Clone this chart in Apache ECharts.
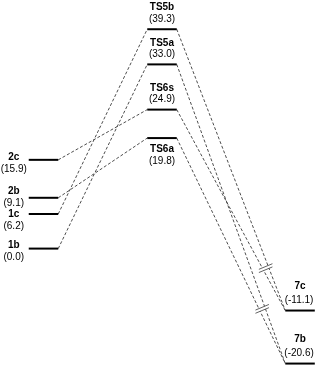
<!DOCTYPE html>
<html><head><meta charset="utf-8">
<script src="https://cdn.jsdelivr.net/npm/echarts@6/dist/echarts.min.js"></script>
<style>html,body{margin:0;padding:0;background:#fff}#c{width:316px;height:368px}</style>
</head><body><div id="c"></div>
<script>
// ---- data ----
const species  = ['1b', '1c', '2b', '2c', 'TS5a', 'TS5b', 'TS6a', 'TS6s', '7b', '7c'];
const energies = [0.0, 6.2, 9.1, 15.9, 33.0, 39.3, 19.8, 24.9, -20.6, -11.1];
const stages   = [0, 0, 0, 0, 1, 1, 1, 1, 2, 2];
const stageCoord = [0, 1, 2.165];
const linkFrom = ['1b', '1c', '2b', '2c', 'TS5a', 'TS5b', 'TS6a', 'TS6s'];
const linkTo   = ['TS5a', 'TS5b', 'TS6a', 'TS6s', '7b', '7c', '7b', '7c'];
const labelsBelow = ['TS6a'];
const breakTarget = ['7c', '7b'];
const breakEnergy = [-3.5, -10.8];

const HW = 0.1245;
const FONT = '"Liberation Sans", Arial, sans-serif';
const idx = n => species.indexOf(n);

const levelData = species.map((n, i) => [stages[i], energies[i], i]);
const linkData = linkFrom.map((f, k) => [k]);
const breakData = breakTarget.map((t, k) => [k]);

function linkEnds(k) {
  const a = idx(linkFrom[k]), b = idx(linkTo[k]);
  return [[stageCoord[stages[a]] + HW, energies[a]], [stageCoord[stages[b]] - HW, energies[b]]];
}

// label shifts for the left column so stacked labels do not collide
function leftShifts(api) {
  const items = species.map((n, i) => i).filter(i => stages[i] === 0)
    .map(i => ({i, y: api.coord([0, energies[i]])[1], d: 0}))
    .sort((a, b) => a.y - b.y);
  const NEED = 11.5;
  for (let k = 0; k + 1 < items.length; k++) {
    const u = items[k], l = items[k + 1];
    const gap = (l.y - 3 + l.d) - (u.y + 9 + u.d);
    if (gap < NEED) { const def = NEED - gap; u.d -= def / 2; l.d += def / 2; }
  }
  const out = {};
  items.forEach(it => out[it.i] = it.d);
  return out;
}

const chart = echarts.init(document.getElementById('c'), null, {renderer: 'canvas'});
chart.setOption({
  animation: false,
  grid: {left: 0, right: 0, top: 3, bottom: 2.2},
  xAxis: {type: 'value', min: -0.367, max: 2.2996, show: false},
  yAxis: {type: 'value', min: -21, max: 44, show: false},
  series: [
    {
      type: 'custom', clip: false, data: linkData, z: 1,
      renderItem(params, api) {
        const e = linkEnds(api.value(0));
        const p1 = api.coord(e[0]), p2 = api.coord(e[1]);
        return {type: 'line', shape: {x1: p1[0], y1: p1[1], x2: p2[0], y2: p2[1]},
          style: {stroke: '#3a3a3a', lineWidth: 0.9, lineDash: [3, 2]}};
      }
    },
    {
      type: 'custom', clip: false, data: breakData, z: 2,
      renderItem(params, api) {
        const k = api.value(0);
        const y = api.coord([0, breakEnergy[k]])[1];
        const xs = [];
        linkTo.forEach((t, j) => {
          if (t !== breakTarget[k]) return;
          const e = linkEnds(j);
          const p1 = api.coord(e[0]), p2 = api.coord(e[1]);
          xs.push(p1[0] + (y - p1[1]) * (p2[0] - p1[0]) / (p2[1] - p1[1]));
        });
        const mx = (Math.min(...xs) + Math.max(...xs)) / 2;
        const hx = (Math.max(...xs) - Math.min(...xs)) / 2 + 3.5, hy = 2.8, g = 1.6;
        return {type: 'group', children: [
          {type: 'polygon', shape: {points: [[mx - hx, y + hy - g], [mx + hx, y - hy - g], [mx + hx, y - hy + g], [mx - hx, y + hy + g]]},
            style: {fill: '#fff'}},
          {type: 'line', shape: {x1: mx - hx, y1: y + hy - g, x2: mx + hx, y2: y - hy - g}, style: {stroke: '#3a3a3a', lineWidth: 0.8}},
          {type: 'line', shape: {x1: mx - hx, y1: y + hy + g, x2: mx + hx, y2: y - hy + g}, style: {stroke: '#3a3a3a', lineWidth: 0.8}}
        ]};
      }
    },
    {
      type: 'custom', clip: false, data: levelData, z: 3,
      renderItem(params, api) {
        const s = api.value(0), en = api.value(1), i = api.value(2);
        const cx = stageCoord[s];
        const p1 = api.coord([cx - HW, en]), p2 = api.coord([cx + HW, en]);
        const mx = (p1[0] + p2[0]) / 2, y = p1[1];
        let nx, ny, vx, vy;
        if (s === 0) {
          const d = leftShifts(api)[i] || 0;
          nx = vx = p1[0] - 15; ny = y - 3 + d; vy = y + 9 + d;
        } else if (s === 1) {
          nx = vx = mx;
          if (labelsBelow.indexOf(species[i]) >= 0) { ny = y + 11.5; vy = y + 23.5; }
          else { ny = y - 21.5; vy = y - 10; }
        } else { nx = mx; vx = mx - 1; ny = y - 24; vy = y - 10.5; }
        return {type: 'group', children: [
          {type: 'line', shape: {x1: p1[0], y1: y, x2: p2[0], y2: y}, style: {stroke: '#000', lineWidth: 2}},
          {type: 'text', style: {text: species[i], x: nx, y: ny, align: 'center', verticalAlign: 'middle',
            fontSize: 10, fontWeight: 'bold', fontFamily: FONT, fill: '#000'}},
          {type: 'text', style: {text: '(' + energies[i].toFixed(1) + ')', x: vx, y: vy, align: 'center', verticalAlign: 'middle',
            fontSize: 10, fontFamily: FONT, fill: '#000'}}
        ]};
      }
    }
  ]
});
</script></body></html>
